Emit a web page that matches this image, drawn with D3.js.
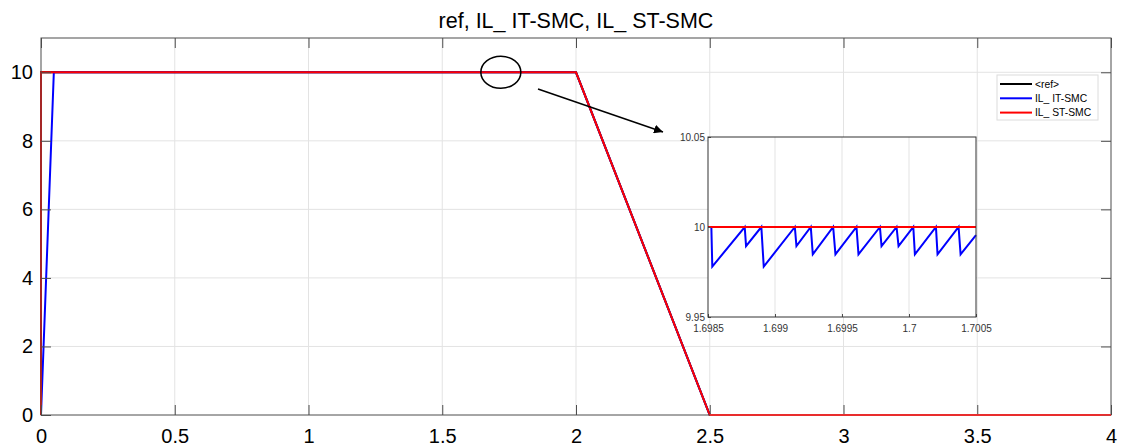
<!DOCTYPE html>
<html>
<head>
<meta charset="utf-8">
<script src="https://cdn.jsdelivr.net/npm/d3@7"></script>
<style>
  body { margin: 0; background: #fff; }
  text { font-family: "Liberation Sans", Arial, sans-serif; }
</style>
</head>
<body>
<svg id="chart"></svg>
<script>
// main plot series: time (s) and current (A)
const refT = [0, 0, 2, 2.5, 4];
const refY = [0, 10, 10, 0, 0];
const itT = [0, 0.048, 2, 2.5, 4];
const itY = [0, 10, 10, 0, 0];
const stT = [0, 0, 2, 2.5, 4];
const stY = [0, 10, 10, 0, 0];

// zoomed inset around t = 1.7 s
const zoomItT = [1.6985, 1.698525, 1.698532, 1.698774, 1.698784, 1.698898, 1.698916, 1.699148, 1.69916,
  1.699267, 1.699282, 1.699434, 1.699451, 1.699608, 1.699623, 1.699783, 1.699795, 1.699907, 1.699922,
  1.700032, 1.700044, 1.700201, 1.700213, 1.70037, 1.700385, 1.7005];
const zoomItY = [10, 10, 9.978, 10, 9.9894, 10, 9.978, 10, 9.9894,
  10, 9.9848, 10, 9.9848, 10, 9.9848, 10, 9.9894, 10, 9.9894,
  10, 9.9848, 10, 9.9848, 10, 9.9848, 9.9955];
const zoomStT = [1.6985, 1.7005];
const zoomStY = [10, 10];

const xTicks = [0, 0.5, 1, 1.5, 2, 2.5, 3, 3.5, 4];
const yTicks = [0, 2, 4, 6, 8, 10];
const zxTicks = [1.6985, 1.699, 1.6995, 1.7, 1.7005];
const zyTicks = [9.95, 10, 10.05];

const legendNames = ["<ref>", "IL_ IT-SMC", "IL_ ST-SMC"];
const legendColors = ["#000000", "#0000ff", "#ff0000"];

const WIDTH = 1125, HEIGHT = 448;
const svg = d3.select("#chart").attr("width", WIDTH).attr("height", HEIGHT);

// main axes
const x = d3.scaleLinear().domain([0, 4]).range([41, 1111]);
const y = d3.scaleLinear().domain([0, 11]).range([415, 38]);

svg.append("text")
  .attr("x", (41 + 1111) / 2).attr("y", 28)
  .attr("text-anchor", "middle").attr("font-size", 21.5).attr("fill", "#000")
  .text("ref, IL_ IT-SMC, IL_ ST-SMC");

// grid
svg.append("g").selectAll("line").data(xTicks.slice(1, -1)).enter().append("line")
  .attr("x1", d => x(d)).attr("x2", d => x(d))
  .attr("y1", y(0)).attr("y2", y(11))
  .attr("stroke", "#e3e3e3").attr("stroke-width", 1);
svg.append("g").selectAll("line").data(yTicks.slice(1)).enter().append("line")
  .attr("x1", x(0)).attr("x2", x(4))
  .attr("y1", d => y(d)).attr("y2", d => y(d))
  .attr("stroke", "#e3e3e3").attr("stroke-width", 1);

const line = d3.line().x(d => x(d[0])).y(d => y(d[1]));
svg.append("path").datum(d3.zip(refT, refY)).attr("d", line)
  .attr("fill", "none").attr("stroke", "#000").attr("stroke-width", 2);
svg.append("path").datum(d3.zip(itT, itY)).attr("d", line)
  .attr("fill", "none").attr("stroke", "#0000ff").attr("stroke-width", 2);
svg.append("path").datum(d3.zip(stT, stY)).attr("d", line)
  .attr("fill", "none").attr("stroke", "#ff0000").attr("stroke-width", 2);

// axes with inward ticks
const axisColor = "#4d4d4d";
function styleAxis(g) {
  g.select(".domain").remove();
  g.selectAll(".tick line").attr("stroke", axisColor);
  g.selectAll(".tick text").attr("fill", "#000").attr("font-size", 20)
    .attr("font-family", "Liberation Sans, Arial, sans-serif");
}
svg.append("g").attr("transform", `translate(0,${y(0)})`)
  .call(d3.axisBottom(x).tickValues(xTicks).tickSize(-10).tickPadding(14).tickFormat(d3.format("")))
  .call(styleAxis);
svg.append("g").attr("transform", `translate(0,${y(11)})`)
  .call(d3.axisTop(x).tickValues(xTicks).tickSize(-10).tickFormat(""))
  .call(styleAxis);
svg.append("g").attr("transform", `translate(${x(0)},0)`)
  .call(d3.axisLeft(y).tickValues(yTicks).tickSize(-10).tickPadding(8))
  .call(styleAxis);
svg.append("g").attr("transform", `translate(${x(4)},0)`)
  .call(d3.axisRight(y).tickValues(yTicks).tickSize(-10).tickFormat(""))
  .call(styleAxis);
svg.append("rect")
  .attr("x", x(0)).attr("y", y(11)).attr("width", x(4) - x(0)).attr("height", y(0) - y(11))
  .attr("fill", "none").attr("stroke", axisColor).attr("stroke-width", 1);
// red line over the bottom edge
svg.append("line").attr("x1", x(2.5)).attr("x2", x(4)).attr("y1", y(0)).attr("y2", y(0))
  .attr("stroke", "#ff3030").attr("stroke-width", 1.5);

// legend
const lg = svg.append("g").attr("transform", "translate(997,75)");
lg.append("rect").attr("width", 101).attr("height", 45)
  .attr("fill", "#fff").attr("stroke", "#dcdcdc");
legendNames.forEach((name, i) => {
  const yy = 9 + i * 14.3;
  lg.append("line").attr("x1", 3).attr("x2", 35).attr("y1", yy).attr("y2", yy)
    .attr("stroke", legendColors[i]).attr("stroke-width", 2);
  lg.append("text").attr("x", 38).attr("y", yy + 3.7).attr("font-size", 10.3)
    .attr("fill", "#000").text(name);
});

// annotation: ellipse and arrow pointing to the inset
const focus = { t: 1.719, v: 10 };
svg.append("ellipse")
  .attr("cx", x(focus.t)).attr("cy", y(focus.v)).attr("rx", 20).attr("ry", 16)
  .attr("fill", "none").attr("stroke", "#000").attr("stroke-width", 1.5);
svg.append("defs").append("marker")
  .attr("id", "arrow").attr("viewBox", "0 0 10 10").attr("refX", 10).attr("refY", 5)
  .attr("markerWidth", 9).attr("markerHeight", 9).attr("markerUnits", "userSpaceOnUse")
  .attr("orient", "auto")
  .append("path").attr("d", "M0,0 L10,5 L0,10 z").attr("fill", "#000");
svg.append("line")
  .attr("x1", 538).attr("y1", 89).attr("x2", 663).attr("y2", 132)
  .attr("stroke", "#000").attr("stroke-width", 1.5).attr("marker-end", "url(#arrow)");

// inset
const zx = d3.scaleLinear().domain([1.6985, 1.7005]).range([708, 976]);
const zy = d3.scaleLinear().domain([9.95, 10.05]).range([317, 137]);
const inset = svg.append("g");
inset.append("rect").attr("x", 708).attr("y", 137).attr("width", 268).attr("height", 180)
  .attr("fill", "#fff");
inset.append("g").selectAll("line").data(zxTicks.slice(1, -1)).enter().append("line")
  .attr("x1", d => zx(d)).attr("x2", d => zx(d)).attr("y1", 137).attr("y2", 317)
  .attr("stroke", "#e3e3e3");
inset.append("g").selectAll("line").data(zyTicks.slice(1, -1)).enter().append("line")
  .attr("x1", 708).attr("x2", 976).attr("y1", d => zy(d)).attr("y2", d => zy(d))
  .attr("stroke", "#e3e3e3");
const zline = d3.line().x(d => zx(d[0])).y(d => zy(d[1]));
inset.append("path").datum(d3.zip(zoomItT, zoomItY)).attr("d", zline)
  .attr("fill", "none").attr("stroke", "#0000ff").attr("stroke-width", 2);
inset.append("path").datum(d3.zip(zoomStT, zoomStY)).attr("d", zline)
  .attr("fill", "none").attr("stroke", "#ff0000").attr("stroke-width", 2);
function styleSmall(g) {
  g.select(".domain").remove();
  g.selectAll(".tick line").attr("stroke", axisColor);
  g.selectAll(".tick text").attr("fill", "#333").attr("font-size", 10)
    .attr("font-family", "Liberation Sans, Arial, sans-serif");
}
inset.append("g").attr("transform", "translate(0,317)")
  .call(d3.axisBottom(zx).tickValues(zxTicks).tickSize(-3).tickPadding(8).tickFormat(d3.format("")))
  .call(styleSmall);
inset.append("g").attr("transform", "translate(708,0)")
  .call(d3.axisLeft(zy).tickValues(zyTicks).tickSize(-3).tickPadding(3).tickFormat(d3.format("")))
  .call(styleSmall);
inset.append("rect").attr("x", 708).attr("y", 137).attr("width", 268).attr("height", 180)
  .attr("fill", "none").attr("stroke", "#333").attr("stroke-width", 1);
</script>
</body>
</html>
